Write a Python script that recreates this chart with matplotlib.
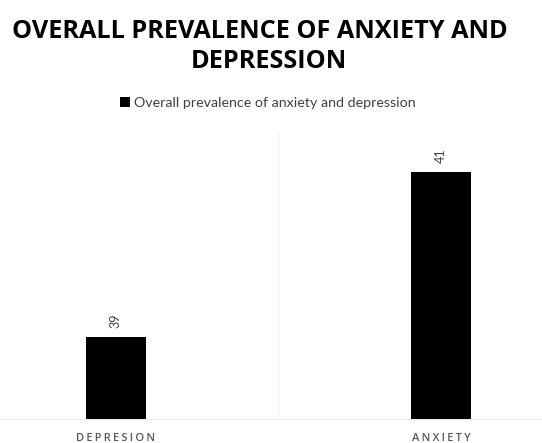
import matplotlib
matplotlib.use('Agg')
import matplotlib.pyplot as plt

categories = ['DEPRESION', 'ANXIETY']
values = [39, 41]
series_name = 'Overall prevalence of anxiety and depression'

fig = plt.figure(figsize=(5.42, 4.43), dpi=100)
ax = fig.add_axes([0, 1 - 419 / 443, 1, (419 - 132) / 443])

x = list(range(len(categories)))
bars = ax.bar(x, values, width=0.184, color='black', label=series_name, zorder=3)

ax.set_ylim(38, 41.48)
ax.set_xlim(-0.355, 1.310)
ax.axvline(0.5, color='#f0f0f0', lw=1, zorder=1)

for b, v in zip(bars, values):
    ax.annotate(str(v), (b.get_x() + b.get_width() / 2, v), xytext=(0, 6),
                textcoords='offset points', rotation=90, ha='center', va='bottom',
                fontsize=9, color='#404040', family='Lato')

# spread the letters a bit like the original
spaced = ['\u2009'.join(c) for c in categories]
ax.set_xticks(x)
ax.set_xticklabels(spaced, fontsize=8, color='#595959', family=['Open Sans', 'DejaVu Sans'],
                   fontweight='semibold')
ax.tick_params(axis='x', length=0, pad=10)
ax.set_yticks([])
for s in ['left', 'right', 'top']:
    ax.spines[s].set_visible(False)
ax.spines['bottom'].set_color('#ececec')

fig.text(260 / 542, 1 - 31 / 443, 'OVERALL PREVALENCE OF ANXIETY AND', ha='center', va='center',
         fontsize=18.2, fontweight='bold', family='Open Sans', color='#000000')
fig.text(269 / 542, 1 - 62 / 443, 'DEPRESSION', ha='center', va='center',
         fontsize=18.2, fontweight='bold', family='Open Sans', color='#000000')

fig.legend(loc='center', bbox_to_anchor=(268 / 542, 1 - 103 / 443), frameon=False,
           handlelength=0.7, handleheight=0.7, handletextpad=0.3,
           prop={'family': 'Lato', 'size': 10.3}, labelcolor='#404040')

fig.savefig('out.png', dpi=100)
